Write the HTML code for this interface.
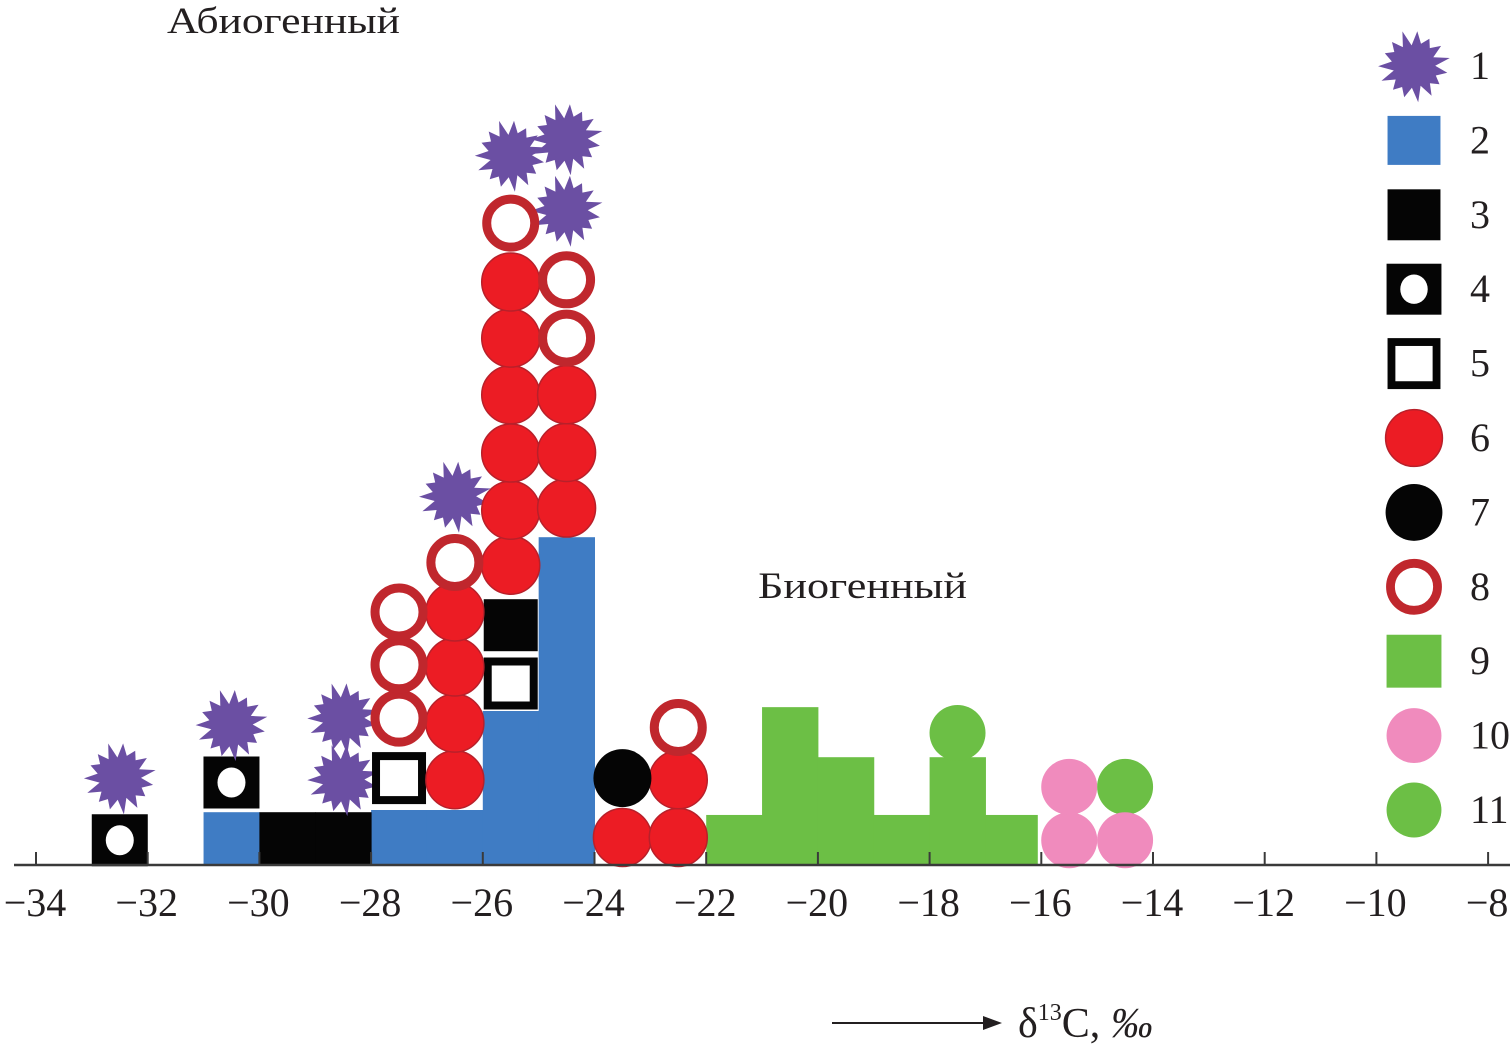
<!DOCTYPE html>
<html><head><meta charset="utf-8"><style>
html,body{margin:0;padding:0;background:#fff;}
svg{display:block;font-family:"Liberation Serif",serif;}
</style></head><body>
<svg id="chart" width="1510" height="1050" viewBox="0 0 1510 1050" xmlns="http://www.w3.org/2000/svg">
<text x="167" y="33" font-size="37" textLength="233" lengthAdjust="spacingAndGlyphs" fill="#231f20">Абиогенный</text>
<text x="758" y="598" font-size="37" textLength="209" lengthAdjust="spacingAndGlyphs" fill="#231f20">Биогенный</text>
<g id="bars"></g><g id="marks"></g><g id="axis"></g><g id="legend"></g>
<g>
<line x1="832" y1="1023" x2="985" y2="1023" stroke="#231f20" stroke-width="2"/>
<polygon points="983,1016 1002,1023 983,1030" fill="#231f20"/>
<text x="1018" y="1037" font-size="42" fill="#231f20">δ<tspan font-size="24" dy="-17">13</tspan><tspan dy="17">C, </tspan><tspan font-style="italic">‰</tspan></text>
</g>
</svg>
<script>
const tickValues=[-34,-32,-30,-28,-26,-24,-22,-20,-18,-16,-14,-12,-10,-8];
const blueBins=[-31,-28,-27,-26,-25];
const blueHeights=[0.96,1,1,2.8,5.96];
const blackBins=[-30,-29];
const blackHeights=[0.96,0.96];
const greenBins=[-22,-21,-20,-19,-18,-17];
const greenHeights=[0.91,2.87,1.96,0.91,1.96,0.91];
// markers: x value (column center), y level in count units, type
const markX=[-32.5,-30.5,-32.5,-30.5,-28.5,-28.5,-26.5,-25.5,-24.5,-24.5,-27.5,-25.5,-25.5,
 -26.5,-26.5,-26.5,-26.5,-25.5,-25.5,-25.5,-25.5,-25.5,-25.5,-24.5,-24.5,-24.5,-23.5,-22.5,-22.5,
 -27.5,-27.5,-27.5,-26.5,-25.5,-24.5,-24.5,-22.5,-23.5,-17.5,-14.5,-15.5,-15.5,-14.5];
const markY=[0.45,1.5,1.58,2.55,1.55,2.67,6.7,12.9,13.2,11.9,1.58,3.3,4.36,
 1.55,2.58,3.6,4.6,5.45,6.45,7.49,8.55,9.58,10.6,6.49,7.5,8.55,0.5,0.5,1.55,
 2.67,3.64,4.6,5.5,11.67,9.58,10.64,2.5,1.58,2.4,1.42,0.45,1.42,0.45];
const markType=[4,4,1,1,1,1,1,1,1,1,5,5,3,
 6,6,6,6,6,6,6,6,6,6,6,6,6,6,6,6,
 8,8,8,8,8,8,8,8,7,11,11,10,10,10];
const legendLabels=["1","2","3","4","5","6","7","8","9","10","11"];

const NS="http://www.w3.org/2000/svg";
const X0=36,PX=55.85,BASE=865,U=55;
const xs=v=>X0+(v+34)*PX;
const ys=c=>BASE-c*U;
function mk(tag,attrs,parent){const e=document.createElementNS(NS,tag);for(const k in attrs)e.setAttribute(k,attrs[k]);parent.appendChild(e);return e;}
const C={blue:"#3f7cc4",black:"#050505",purple:"#6b4fa3",red:"#ec1c24",ring:"#c0272d",green:"#6cbf45",pink:"#f08bbd"};
function star(cx,cy,r,parent){
  const n=15,p=[];
  for(let i=0;i<n*2;i++){const a=i*Math.PI/n+0.2;const rr=(i%2?0.66:1)*r*(1+0.08*Math.sin(i*2.3));p.push((cx+rr*Math.cos(a)).toFixed(1)+","+(cy+rr*Math.sin(a)).toFixed(1));}
  return mk("polygon",{points:p.join(" "),fill:C.purple},parent);
}
function drawMark(t,cx,cy,parent,s){
  s=s||1;let e;
  if(t===1)e=star(cx,cy,34*s,parent);
  else if(t===2)e=mk("rect",{x:cx-27*s,y:cy-25*s,width:54*s,height:50*s,fill:C.blue},parent);
  else if(t===3)e=mk("rect",{x:cx-27*s,y:cy-26*s,width:54*s,height:52*s,fill:C.black},parent);
  else if(t===4){e=mk("g",{},parent);mk("rect",{x:cx-28*s,y:cy-26*s,width:56*s,height:52*s,fill:C.black},e);mk("ellipse",{cx:cx,cy:cy,rx:14*s,ry:15*s,fill:"#fff"},e);}
  else if(t===5){e=mk("g",{},parent);mk("rect",{x:cx-27*s,y:cy-26*s,width:54*s,height:52*s,fill:C.black},e);mk("rect",{x:cx-19*s,y:cy-18*s,width:38*s,height:36*s,fill:"#fff"},e);}
  else if(t===6)e=mk("circle",{cx:cx,cy:cy,r:29*s,fill:C.red,stroke:"#b8202a","stroke-width":1.5},parent);
  else if(t===7)e=mk("circle",{cx:cx,cy:cy,r:29*s,fill:C.black},parent);
  else if(t===8)e=mk("circle",{cx:cx,cy:cy,r:24*s,fill:"#fff",stroke:C.ring,"stroke-width":9*s},parent);
  else if(t===9)e=mk("rect",{x:cx-28*s,y:cy-27*s,width:56*s,height:54*s,fill:C.green},parent);
  else if(t===10)e=mk("circle",{cx:cx,cy:cy,r:28*s,fill:C.pink},parent);
  else if(t===11)e=mk("circle",{cx:cx,cy:cy,r:28*s,fill:C.green},parent);
  return e;
}
const bars=document.getElementById("bars");
blueBins.forEach((b,i)=>{const e=mk("rect",{x:xs(b),y:ys(blueHeights[i]),width:PX+0.5,height:blueHeights[i]*U,fill:C.blue},bars);

});
blackBins.forEach((b,i)=>{const e=mk("rect",{x:xs(b),y:ys(blackHeights[i]),width:PX+0.5,height:blackHeights[i]*U,fill:C.black},bars);

});
greenBins.forEach((b,i)=>{const e=mk("rect",{x:xs(b),y:ys(greenHeights[i]),width:PX+0.5-(i===5?4:0),height:greenHeights[i]*U,fill:C.green},bars);

});
const marks=document.getElementById("marks");
markX.forEach((v,i)=>{const e=drawMark(markType[i],xs(v),ys(markY[i]),marks);

});
const ax=document.getElementById("axis");


mk("line",{x1:14,y1:BASE,x2:1510,y2:BASE,stroke:"#3a3a3a","stroke-width":2.5},ax);
tickValues.forEach(v=>{
  mk("line",{x1:xs(v),y1:BASE-13,x2:xs(v),y2:BASE,stroke:"#3a3a3a","stroke-width":2},ax);
  const t=mk("text",{x:xs(v)-1,y:916,"font-size":40,"text-anchor":"middle",fill:"#231f20"},ax);
  t.textContent="\u2212"+Math.abs(v);
  
  
});
const lg=document.getElementById("legend");


legendLabels.forEach((l,i)=>{
  const cy=66+i*74.4;
  const g=mk("g",{},lg);
  
  
  drawMark(i+1,1414,cy,g,i===0?1:0.98);
  const t=mk("text",{x:1470,y:cy+13,"font-size":40,fill:"#231f20"},g);
  t.textContent=l;
});
</script>
</body></html>
